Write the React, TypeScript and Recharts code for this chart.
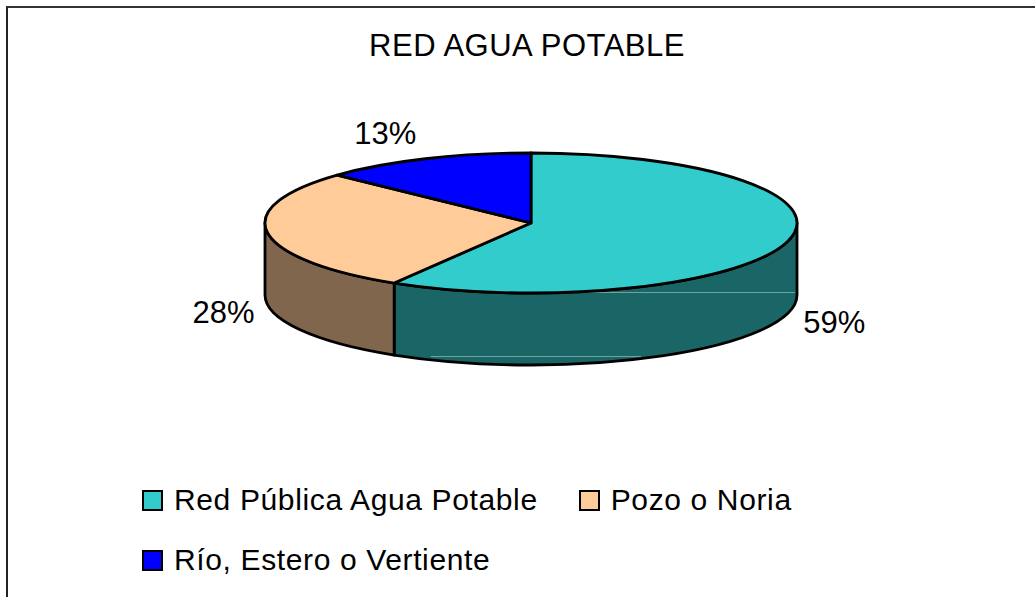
import { Legend, Pie, PieChart } from 'recharts';

const categories = ['Red Pública Agua Potable', 'Pozo o Noria', 'Río, Estero o Vertiente'];
const shares = [58.6, 28.4, 13];
const topColors = ['#33CCCC', '#FFCC99', '#0000FF'];
const wallColors = ['#1A6666', '#80664D', '#000080'];

const pieData = categories.map((name, i) => ({ name, value: shares[i], fill: topColors[i] }));

const FONT = '"Liberation Sans", Arial, sans-serif';
const SQUASH = 70 / 266; // ellipse height / width of the tilted pie
const DEPTH = 72;
// label nudges from the rim, per slice
const labelNudge = [
  [47, 81],
  [-44, 80],
  [-40, -25],
];

const rad = (deg: number) => (deg * Math.PI) / 180;

function TiltedSector(props: any) {
  const { cx, cy, outerRadius, startAngle, endAngle, index } = props;
  const rx = outerRadius;
  const ry = outerRadius * SQUASH;
  const px = (a: number) => cx + rx * Math.cos(rad(a));
  const py = (a: number) => cy - ry * Math.sin(rad(a));
  const large = Math.abs(startAngle - endAngle) > 180 ? 1 : 0;
  const top = `M${cx},${cy} L${px(startAngle)},${py(startAngle)} A${rx},${ry} 0 ${large} 1 ${px(endAngle)},${py(endAngle)} Z`;

  // only the part of the rim that faces the viewer gets a wall
  const from = Math.min(startAngle, 0);
  const to = Math.max(endAngle, -180);
  let wall = null;
  if (from > to) {
    const d =
      `M${px(from)},${py(from)} A${rx},${ry} 0 0 1 ${px(to)},${py(to)} ` +
      `L${px(to)},${py(to) + DEPTH} A${rx},${ry} 0 0 0 ${px(from)},${py(from) + DEPTH} Z`;
    wall = <path d={d} fill={wallColors[index]} stroke="#000" strokeWidth={2.8} strokeLinejoin="round" />;
  }

  return (
    <g>
      {wall}
      {/* faint banding lines on the big wall */}
      {index === 0 && (
        <g stroke="#6FA3A1" strokeWidth={1}>
          <line x1={cx + 40} x2={cx + rx - 2} y1={cy + ry - 0.5} y2={cy + ry - 0.5} />
          <line x1={cx - 100} x2={cx + 110} y1={cy + ry + DEPTH - 8.5} y2={cy + ry + DEPTH - 8.5} />
        </g>
      )}
      <path d={top} fill={topColors[index]} stroke="#000" strokeWidth={2.8} strokeLinejoin="round" />
    </g>
  );
}

function PercentLabel(props: any) {
  const { cx, cy, outerRadius, midAngle, index, value } = props;
  const x = cx + outerRadius * Math.cos(rad(midAngle)) + labelNudge[index][0];
  const y = cy - outerRadius * SQUASH * Math.sin(rad(midAngle)) + labelNudge[index][1];
  return (
    <text x={x} y={y} textAnchor="middle" dominantBaseline="central" fontFamily={FONT} fontSize={31} fill="#000">
      {Math.round(value)}%
    </text>
  );
}

function LegendBlock({ payload }: any) {
  return (
    <div
      style={{
        display: 'flex',
        flexWrap: 'wrap',
        width: 700,
        fontFamily: FONT,
        fontSize: 30,
        letterSpacing: 0.63,
        color: '#000',
      }}
    >
      {(payload || []).map((item: any) => (
        <div key={item.value} style={{ display: 'flex', alignItems: 'center', height: 60, marginRight: 41 }}>
          <span
            style={{
              display: 'inline-block',
              width: 17,
              height: 17,
              border: '2px solid #000',
              background: item.payload?.fill || item.color,
              marginRight: 11,
            }}
          />
          {item.value}
        </div>
      ))}
    </div>
  );
}

export default function App() {
  return (
    <div style={{ position: 'absolute', left: 0, top: 0, width: 1035, height: 597, overflow: 'hidden', background: '#fff' }}>
      <div
        style={{
          position: 'absolute',
          left: 6,
          top: 6,
          width: 1100,
          height: 700,
          borderLeft: '2px solid #222',
          borderTop: '2px solid #333',
        }}
      />
      <div
        style={{
          position: 'absolute',
          left: 0,
          top: 28,
          width: 1054,
          textAlign: 'center',
          fontFamily: FONT,
          fontSize: 31,
          letterSpacing: 0.5,
          color: '#000',
        }}
      >
        RED AGUA POTABLE
      </div>
      <div style={{ position: 'absolute', left: 0, top: 0 }}>
        <PieChart width={1035} height={597} margin={{ top: 0, right: 0, bottom: 0, left: 0 }}>
          <Pie
            data={pieData}
            dataKey="value"
            nameKey="name"
            cx={531}
            cy={223}
            outerRadius={266}
            startAngle={90}
            endAngle={-270}
            stroke="none"
            shape={TiltedSector}
            label={PercentLabel}
            labelLine={false}
            isAnimationActive={false}
          />
          <Legend
            content={LegendBlock}
            itemSorter={null}
            wrapperStyle={{ position: 'absolute', left: 142, top: 470, width: 700, bottom: 'auto' }}
          />
        </PieChart>
      </div>
    </div>
  );
}
